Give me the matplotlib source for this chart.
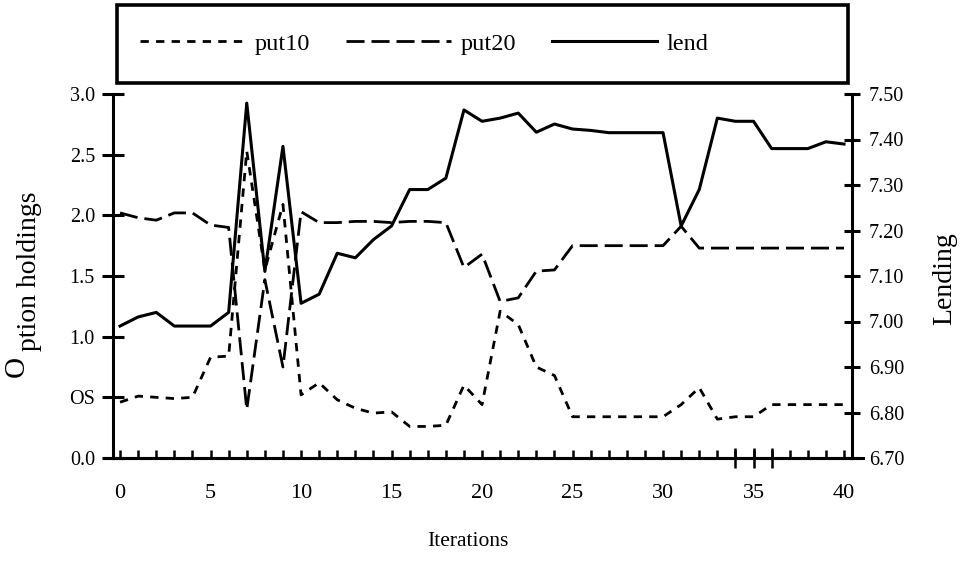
import matplotlib
matplotlib.use('Agg')
import matplotlib.pyplot as plt
from matplotlib.patches import Rectangle

plt.rcParams['font.family'] = ['Liberation Serif', 'DejaVu Serif']

iteracje = list(range(41))

put10 = [0.46, 0.51, 0.50, 0.49, 0.50, 0.83, 0.84, 2.53, 1.55, 2.09,
         0.52, 0.62, 0.48, 0.41, 0.37, 0.38, 0.26, 0.26, 0.27, 0.60,
         0.44, 1.21, 1.10, 0.75, 0.68, 0.34, 0.34, 0.34, 0.34, 0.34,
         0.34, 0.44, 0.58, 0.32, 0.34, 0.34, 0.44, 0.44, 0.44, 0.44,
         0.44]

put20 = [2.02, 1.98, 1.96, 2.02, 2.02, 1.92, 1.90, 0.40, 1.47, 0.75,
         2.03, 1.94, 1.94, 1.95, 1.95, 1.94, 1.95, 1.95, 1.94, 1.57,
         1.68, 1.29, 1.32, 1.54, 1.55, 1.75, 1.75, 1.75, 1.75, 1.75,
         1.75, 1.91, 1.73, 1.73, 1.73, 1.73, 1.73, 1.73, 1.73, 1.73,
         1.73]

lend = [6.99, 7.01, 7.02, 6.99, 6.99, 6.99, 7.02, 7.48, 7.11, 7.385,
        7.04, 7.06, 7.15, 7.14, 7.18, 7.21, 7.29, 7.29, 7.315, 7.465,
        7.44, 7.447, 7.458, 7.416, 7.434, 7.423, 7.42, 7.415, 7.415, 7.415,
        7.415, 7.21, 7.29, 7.447, 7.44, 7.44, 7.38, 7.38, 7.38, 7.395,
        7.39]

lewe_ticki = [0.0, 0.5, 1.0, 1.5, 2.0, 2.5, 3.0]
lewe_etykiety = ['0.0', 'OS', '1.0', '1.5', '2.0', '2.5', '3.0']
prawe_ticki = [6.7, 6.8, 6.9, 7.0, 7.1, 7.2, 7.3, 7.4, 7.5]
prawe_etykiety = ['6.70', '6.80', '6.90', '7.00', '7.10', '7.20', '7.30', '7.40', '7.50']

fig = plt.figure(figsize=(9.64, 5.62), dpi=100)
ax = fig.add_axes([113/964, 1 - 458/562, (852 - 113)/964, (458 - 94)/562])
ax2 = ax.twinx()

l1, = ax.plot(iteracje, put10, color='black', lw=2.0, dashes=(3, 2.6), label='put10')
l2, = ax.plot(iteracje, put20, color='black', lw=2.0, dashes=(6.5, 2.5), label='put20')
l3, = ax2.plot(iteracje, lend, color='black', lw=2.2, label='lend')

ax.set_xlim(-0.39, 40.44)
ax.set_ylim(0, 3)
ax2.set_ylim(6.7, 7.5)

ax.set_yticks(lewe_ticki)
ax.set_yticklabels(lewe_etykiety)
ax2.set_yticks(prawe_ticki)
ax2.set_yticklabels(prawe_etykiety)

ax.set_xticks(iteracje)
ax.set_xticklabels([str(i) if i % 5 == 0 else '' for i in iteracje])
ax.set_xticks([34, 35, 36], minor=True)
ax.xaxis.remove_overlapping_locs = False

ax.tick_params(axis='x', which='major', direction='in', length=6, width=1.8,
               labelsize=16, pad=19)
ax.tick_params(axis='x', which='minor', direction='inout', length=14, width=1.8)
ax.tick_params(axis='y', direction='inout', length=16, width=2.2, labelsize=14.5, pad=5)
ax2.tick_params(axis='y', direction='inout', length=12, width=2.2, labelsize=14.5, pad=6)

for a in (ax, ax2):
    a.spines['top'].set_visible(False)
    for s in ('left', 'right', 'bottom'):
        a.spines[s].set_linewidth(2.2)
ax.spines['right'].set_visible(False)
ax2.spines['left'].set_visible(False)
ax2.spines['bottom'].set_visible(False)

# przedluzenie osi x poza ramke
ax.plot([-0.012, 1.015], [0, 0], transform=ax.transAxes, clip_on=False,
        color='black', lw=2.2)

fig.text(468/964, 1 - 541/562, 'Iterations', ha='center', va='center', fontsize=15.5)
fig.text(30/964, 1 - 271/562, 'ption holdings', ha='center', va='center',
         rotation=90, fontsize=20)
fig.text(17/964, 1 - 366/562, 'O', ha='center', va='center', rotation=90, fontsize=21)
fig.text(945/964, 1 - 279/562, 'Lending', ha='center', va='center',
         rotation=90, fontsize=20)

fig.add_artist(Rectangle((117/964, 1 - 83/562), (848 - 117)/964, 78/562,
                         transform=fig.transFigure, fill=False, lw=2.6,
                         edgecolor='black'))
fig.legend(handles=[l1, l2, l3], loc='center', bbox_to_anchor=(0.44, 1 - 44/562),
           ncol=3, frameon=False, handlelength=4.3, columnspacing=1.5,
           handletextpad=0.4, fontsize=17.5)

fig.savefig('out.png', dpi=100)
